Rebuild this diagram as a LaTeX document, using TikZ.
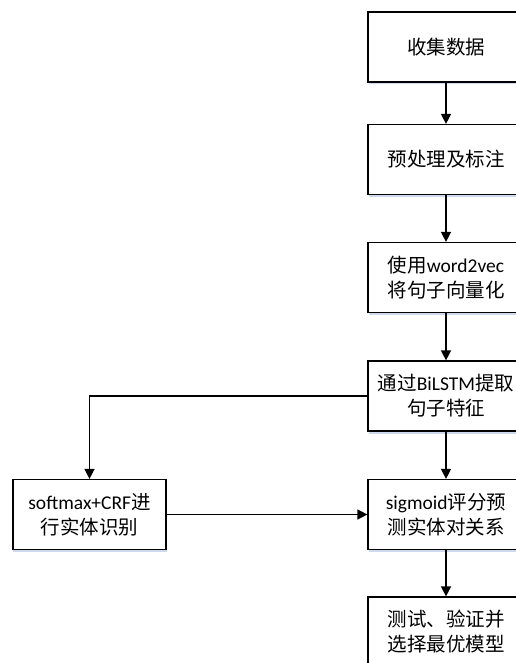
\documentclass[tikz,border=0pt]{standalone}
\usepackage{fontspec}
\setmainfont{Carlito}
\newfontfamily\cjk{Noto Sans CJK SC}
\usetikzlibrary{arrows.meta}
\definecolor{shadowc}{RGB}{205,218,238}
\tikzset{
  stepbox/.style={draw=black, line width=1.2bp, fill=white, rectangle,
    minimum width=156bp, minimum height=70bp, inner sep=0pt, align=center,
    font=\fontsize{19.5bp}{25bp}\selectfont,
    preaction={fill=shadowc, draw=none, transform canvas={shift={(0.5bp,-2.5bp)}}}},
  flow/.style={line width=1.4bp, -{Triangle[length=10bp,width=10bp]}}
}
\begin{document}
\begin{tikzpicture}[x=1bp,y=-1bp]
\useasboundingbox (0,0) rectangle (516,663);
\clip (0,0) rectangle (516,663);
\fill[white] (0,0) rectangle (516,663);
\node[stepbox] (b1) at (446,47) {\cjk 收集数据};
\node[stepbox] (b2) at (446,159.5) {\cjk 预处理及标注};
\node[stepbox] (b3) at (446,277.5) {{\cjk 使用}word2vec\\{\cjk 将句子向量化}};
\node[stepbox] (b4) at (446,396) {{\cjk 通过}BiLSTM{\cjk 提取}\\{\cjk 句子特征}};
\node[stepbox] (b5) at (446,514.5) {sigmoid{\cjk 评分预}\\{\cjk 测实体对关系}};
\node[stepbox] (b6) at (446,632) {{\cjk 测试、验证并}\\{\cjk 选择最优模型}};
\node[stepbox, minimum width=153bp] (L) at (89.5,514.5) {softmax+CRF{\cjk 进}\\{\cjk 行实体识别}};
\draw[flow] (b1) -- (b2);
\draw[flow] (b2) -- (b3);
\draw[flow] (b3) -- (b4);
\draw[flow] (b4) -- (b5);
\draw[flow] (b5) -- (b6);
\draw[flow] (b4.west) -| (L.north);
\draw[flow] (L.east) -- (b5.west);
\end{tikzpicture}
\end{document}
